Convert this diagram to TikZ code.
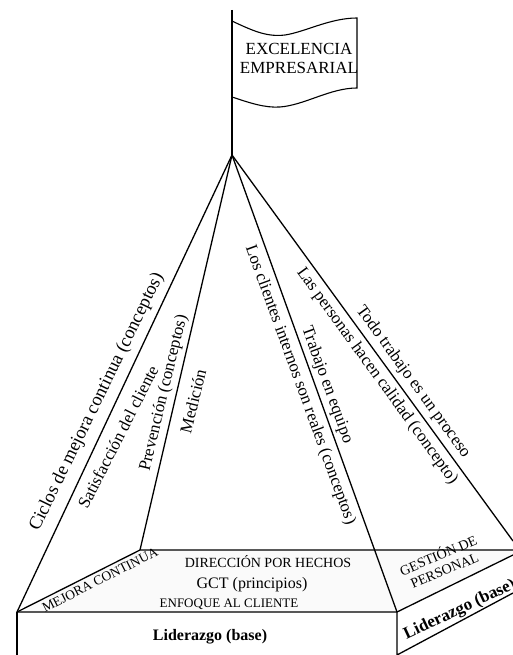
\documentclass[tikz,border=0pt]{standalone}
\usepackage{fontspec}
\setmainfont{Liberation Serif}
\tikzset{
  edge/.style={line width=1.3pt},
  lbl/.style={inner sep=0pt, font=\fontsize{17}{19}\selectfont},
  capstxt/.style={inner sep=0pt, font=\fontsize{13.5}{15}\selectfont},
  basetxt/.style={inner sep=0pt, font=\fontsize{16}{18}\selectfont\bfseries}
}

\begin{document}
\begin{tikzpicture}[x=1pt,y=-1pt]
  \useasboundingbox (0,0) rectangle (513,655);
  \clip (0,0) rectangle (513,655);

  % corner points
  \coordinate (poletop) at (232,10);
  \coordinate (apex) at (232,155);
  \coordinate (lcorner) at (17,612);
  \coordinate (tcorner) at (140,550);
  \coordinate (rcorner) at (397,612);
  \coordinate (redge) at (513,541);
  \coordinate (ttop) at (513,550);
  \coordinate (rtop) at (513,555);
  \coordinate (rbot) at (513,593);
  \coordinate (lfoot) at (17,655);
  \coordinate (rfoot) at (397,655);

  % top face of the base
  \fill[black!2] (lcorner) -- (tcorner) -- (ttop) -- (rtop) -- (rcorner) -- cycle;
  \draw[edge] (lcorner) -- (tcorner) -- (ttop);
  \draw[edge] (rtop) -- (rcorner) -- (lcorner);

  % front and side of the base
  \draw[edge] (lcorner) -- (lfoot);
  \draw[edge] (rcorner) -- (rfoot) -- (rbot);

  % flag
  \draw[line width=1.1pt, fill=white] (232,21) .. controls (255,32) and (268,37) .. (285,35)
    .. controls (305,32) and (330,18) .. (357,18) -- (357,88)
    .. controls (330,88) and (305,105) .. (280,107)
    .. controls (265,108) and (250,103) .. (232,97);
  \draw[edge] (poletop) -- (apex);

  % lines from the apex
  \draw[edge] (apex) -- (lcorner);
  \draw[edge] (apex) -- (tcorner);
  \draw[edge] (apex) -- (rcorner);
  \draw[edge] (apex) -- (redge);

  \node[lbl, align=center] (flag) at (299,58) {EXCELENCIA\\EMPRESARIAL};

  % concepts along the lines
  \node[lbl, font=\fontsize{18.5}{20}\selectfont, rotate=64] (ciclos) at (97,402) {Ciclos de mejora continua (conceptos)};
  \node[lbl, rotate=63] (satis) at (118,437) {Satisfacción del cliente};
  \node[lbl, rotate=76.5] (prev) at (164,393) {Prevención (conceptos)};
  \node[lbl, rotate=76] (medic) at (193,401) {Medición};
  \node[lbl, rotate=-70] (clientes) at (300,385) {Los clientes internos son reales (conceptos)};
  \node[lbl, rotate=-70] (equipo) at (327,385) {Trabajo en equipo};
  \node[lbl, rotate=-54] (personas) at (377,376) {Las personas hacen calidad (concepto)};
  \node[lbl, rotate=-54] (proceso) at (413,382) {Todo trabajo es un proceso};

  % principles on the top face
  \node[capstxt, rotate=27] (mejora) at (100,580) {MEJORA CONTINUA};
  \node[inner sep=0pt, anchor=base, font=\fontsize{14}{16}\selectfont] (direccion) at (268,567) {DIRECCIÓN POR HECHOS};
  \node[inner sep=0pt, anchor=base, font=\fontsize{16}{18}\selectfont] (gct) at (252,588) {GCT (principios)};
  \node[inner sep=0pt, anchor=base, font=\fontsize{13}{15}\selectfont] (enfoque) at (229,607) {ENFOQUE AL CLIENTE};
  \node[capstxt, font=\fontsize{14}{16}\selectfont, rotate=23, align=center] (gestion) at (441,562) {GESTIÓN DE\\PERSONAL};

  % base
  \node[basetxt, anchor=base] (lidfront) at (210,640) {Liderazgo (base)};
  \node[basetxt, font=\fontsize{17}{19}\selectfont\bfseries, rotate=25] (lidside) at (460,610) {Liderazgo (base)};
\end{tikzpicture}
\end{document}
